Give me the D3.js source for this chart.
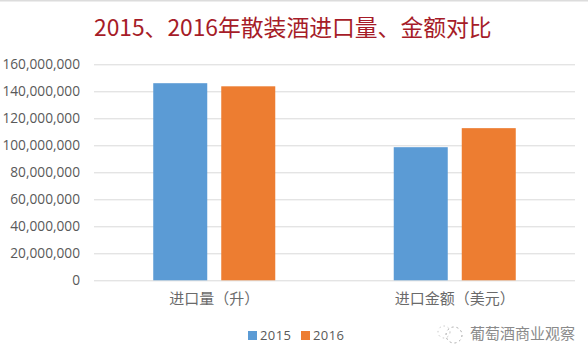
<!DOCTYPE html>
<html>
<head>
<meta charset="utf-8">
<script src="https://cdn.jsdelivr.net/npm/d3@7"></script>
<style>
  html, body { margin: 0; padding: 0; background: #fff; }
  svg { display: block; }
  text { font-family: "Noto Sans CJK SC", "Noto Sans", sans-serif; }
  .tick-y { font-family: "Open Sans", "Noto Sans", sans-serif; }
</style>
</head>
<body>
<svg id="chart"></svg>
<script>
const categories = ['进口量（升）', '进口金额（美元）'];
const seriesNames = ['2015', '2016'];
const values2015 = [146000000, 98600000];
const values2016 = [143700000, 112700000];
const yTicks = [0, 20000000, 40000000, 60000000, 80000000, 100000000, 120000000, 140000000, 160000000];
const seriesColors = ['#5b9bd5', '#ed7d31'];

const width = 588, height = 354;
const margin = {top: 64.3, right: 13, bottom: 73.7, left: 94};
const innerW = width - margin.left - margin.right;
const innerH = height - margin.top - margin.bottom;

const svg = d3.select('#chart').attr('width', width).attr('height', height);

// strip along the top of the screenshot
svg.append('rect').attr('width', width).attr('height', 1.5).attr('fill', '#dcdcdc');

svg.append('text')
    .attr('x', 94)
    .attr('y', 36)
    .attr('font-size', 22.8)
    .attr('fill', '#a61c28')
    .text('2015、2016年散装酒进口量、金额对比');

const chart = svg.append('g').attr('transform', `translate(${margin.left},${margin.top})`);

const x0 = d3.scaleBand().domain(categories).range([0, innerW]);
const x1 = d3.scaleBand().domain(seriesNames).range([0, x0.bandwidth()])
    .paddingInner(0.206).paddingOuter(0.871);
const y = d3.scaleLinear().domain([0, 160000000]).range([innerH, 0]);
const color = d3.scaleOrdinal().domain(seriesNames).range(seriesColors);

// gridlines + y labels
const yAxis = d3.axisLeft(y)
    .tickValues(yTicks)
    .tickFormat(d3.format(','))
    .tickSize(-innerW)
    .tickPadding(14);

chart.append('g')
    .call(yAxis)
    .call(g => g.select('.domain').remove())
    .call(g => g.selectAll('line').attr('stroke', '#d9d9d9').attr('stroke-width', 1))
    .call(g => g.selectAll('text')
        .attr('class', 'tick-y')
        .attr('font-size', 13.7)
        .attr('fill', '#595959'));

const rows = [values2015, values2016];
const groups = chart.selectAll('.series')
    .data(seriesNames)
    .join('g')
    .attr('class', 'series')
    .attr('fill', d => color(d));

groups.selectAll('rect')
    .data((d, i) => rows[i].map((v, j) => ({cat: categories[j], v: v})))
    .join('rect')
    .attr('x', (d, i, n) => x0(d.cat) + x1(n[i].parentNode.__data__))
    .attr('y', d => y(d.v))
    .attr('width', x1.bandwidth())
    .attr('height', d => innerH - y(d.v));

// category labels
const xAxis = d3.axisBottom(x0).tickSize(0).tickPadding(13);
chart.append('g')
    .attr('transform', `translate(0,${innerH})`)
    .call(xAxis)
    .call(g => g.select('.domain').remove())
    .call(g => g.selectAll('text')
        .attr('font-size', 15)
        .attr('fill', '#6a6a6a'));

// legend
const legendX = d3.scaleOrdinal().domain(seriesNames).range([248, 301]);
const legend = svg.selectAll('.legend')
    .data(seriesNames)
    .join('g')
    .attr('class', 'legend')
    .attr('transform', d => `translate(${legendX(d)},331)`);
legend.append('rect').attr('width', 9).attr('height', 9).attr('fill', d => color(d));
legend.append('text')
    .attr('x', 12)
    .attr('y', 9)
    .attr('font-size', 13)
    .attr('letter-spacing', 0.4)
    .attr('fill', '#595959')
    .style('font-family', '"Open Sans", sans-serif')
    .text(d => d);

// watermark
const mark = svg.append('g').attr('transform', 'translate(454,335)');
mark.append('circle').attr('r', 8)
    .attr('fill', 'none').attr('stroke', '#a8a8a8').attr('stroke-width', 1).attr('stroke-dasharray', '2 3');
mark.append('circle').attr('cx', -10).attr('cy', -3).attr('r', 6)
    .attr('fill', 'none').attr('stroke', '#c4c4c4').attr('stroke-width', 1).attr('stroke-dasharray', '1.5 3');
svg.append('text')
    .attr('x', 575)
    .attr('y', 339)
    .attr('text-anchor', 'end')
    .attr('font-size', 15)
    .attr('fill', '#8a8a8a')
    .text('葡萄酒商业观察');
</script>
</body>
</html>
